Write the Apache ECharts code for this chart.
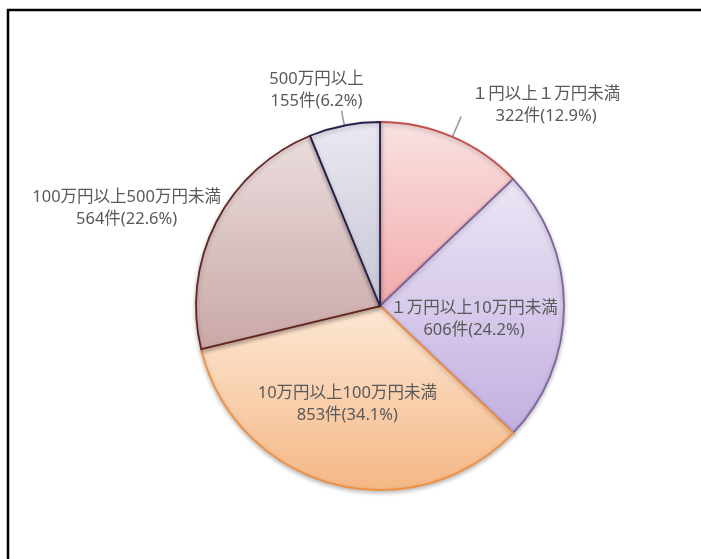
<!DOCTYPE html>
<html><head><meta charset="utf-8">
<script src="https://cdn.jsdelivr.net/npm/echarts@6/dist/echarts.min.js"></script>
<style>html,body{margin:0;padding:0;background:#fff}#c{width:701px;height:559px}</style>
</head><body><div id="c"></div>
<script>
const categories = ['１円以上１万円未満', '１万円以上10万円未満', '10万円以上100万円未満', '100万円以上500万円未満', '500万円以上'];
const counts = [322, 606, 853, 564, 155];
const percents = ['12.9%', '24.2%', '34.1%', '22.6%', '6.2%'];

const topColors = ['#f9e2e2', '#ece6f5', '#fde8d5', '#ebdddd', '#e9e9f1'];
const bottomColors = ['#f3aaaa', '#c3afe0', '#f5b785', '#c9a7a7', '#c6c6d6'];
const borderColors = ['#c0504d', '#8064a2', '#f09040', '#632523', '#25204f'];
const labelInside = [false, true, true, false, false];
const showLine = [true, false, false, false, true];
const offsets = [[80, -11], [-1, 13], [-8, 7], [-81, -12], [-20, -20]];

const chart = echarts.init(document.getElementById('c'));
const data = categories.map((name, i) => ({
  name: name,
  value: counts[i],
  itemStyle: {
    color: new echarts.graphic.LinearGradient(0, 0, 0, 1, [
      {offset: 0, color: topColors[i]}, {offset: 1, color: bottomColors[i]}
    ]),
    borderColor: borderColors[i]
  },
  label: { position: labelInside[i] ? 'inside' : 'outside' },
  labelLine: { show: showLine[i], length: showLine[i] ? (i === 0 ? 22 : 15) : 4, length2: 0 }
}));

chart.setOption({
  backgroundColor: '#fff',
  animation: false,
  graphic: [{
    type: 'rect', shape: {x: 8, y: 10, width: 720, height: 580},
    style: {fill: 'none', stroke: '#000', lineWidth: 2.5}, z: 100
  }],
  series: [{
    type: 'pie',
    center: [380, 306],
    radius: 184,
    startAngle: 90,
    clockwise: true,
    data: data,
    itemStyle: {
      borderWidth: 1.8,
      shadowBlur: 4, shadowColor: 'rgba(0,0,0,0.25)', shadowOffsetY: 2
    },
    label: {
      formatter: (p) => p.name + '\n' + counts[p.dataIndex] + '件(' + percents[p.dataIndex] + ')',
      color: '#595959',
      fontSize: 16.5,
      lineHeight: 22,
      align: 'center',
      fontFamily: '"Noto Sans", "Noto Sans CJK JP", sans-serif'
    },
    labelLine: { lineStyle: { color: '#999', width: 1.5 }, smooth: false },
    labelLayout: (p) => {
      const o = offsets[p.dataIndex];
      return { dx: o[0], dy: o[1], align: 'center' };
    }
  }]
});
</script></body></html>
